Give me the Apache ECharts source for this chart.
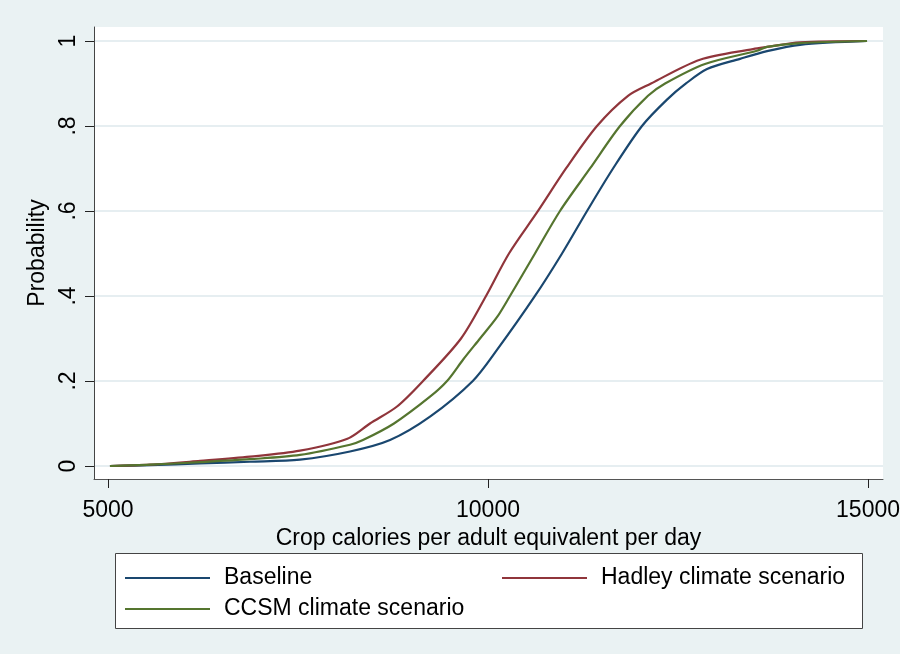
<!DOCTYPE html>
<html>
<head>
<meta charset="utf-8">
<script src="https://cdn.jsdelivr.net/npm/echarts@6/dist/echarts.min.js"></script>
<style>
  html, body { margin: 0; padding: 0; background: #EAF2F3; }
  #chart { width: 900px; height: 654px; }
</style>
</head>
<body>
<div id="chart"></div>
<script>
// Cumulative distribution of crop calories per adult equivalent per day
const seriesNames = ['Baseline', 'Hadley climate scenario', 'CCSM climate scenario'];
const seriesColors = ['#1a476f', '#90353b', '#55752f'];

// [calories, cumulative probability]
const baseline = [
  [5026, 0.000], [5553, 0.002], [6211, 0.006], [6868, 0.010], [7526, 0.015],
  [8184, 0.034], [8711, 0.061], [9237, 0.116], [9800, 0.200], [10118, 0.273],
  [10618, 0.400], [10974, 0.500], [11303, 0.600], [11645, 0.700], [12026, 0.800],
  [12355, 0.862], [12605, 0.900], [12882, 0.934], [13316, 0.958], [13671, 0.976],
  [14105, 0.991], [14987, 1.000]
];
const hadley = [
  [5026, 0.000], [5553, 0.003], [6211, 0.012], [6868, 0.022], [7526, 0.036],
  [8150, 0.064], [8447, 0.100], [8803, 0.140], [9145, 0.200], [9645, 0.300],
  [9974, 0.400], [10276, 0.500], [10658, 0.600], [11026, 0.700], [11434, 0.800],
  [11842, 0.871], [12145, 0.900], [12789, 0.956], [13487, 0.981], [13671, 0.986],
  [14105, 0.997], [14987, 1.000]
];
const ccsm = [
  [5026, 0.000], [5553, 0.003], [6211, 0.009], [6868, 0.016], [7526, 0.026],
  [8184, 0.050], [8355, 0.061], [8763, 0.100], [9237, 0.163], [9461, 0.200],
  [9671, 0.250], [9895, 0.300], [10118, 0.350], [10289, 0.400], [10618, 0.500],
  [10947, 0.600], [11342, 0.700], [11737, 0.800], [12105, 0.871], [12330, 0.900],
  [12855, 0.946], [13539, 0.977], [13671, 0.986], [14105, 0.995], [14987, 1.000]
];

const xTicks = [5000, 10000, 15000];
const yTicks = [0, 0.2, 0.4, 0.6, 0.8, 1];

const FONT = '"Liberation Sans", Arial, sans-serif';

const chart = echarts.init(document.getElementById('chart'), null, { renderer: 'canvas' });

const mkSeries = (name, data, color) => ({
  name: name,
  type: 'line',
  data: data,
  showSymbol: false,
  smooth: 0.3,
  lineStyle: { color: color, width: 2.2, join: 'round' },
  itemStyle: { color: color },
  emphasis: { disabled: true }
});

const legendText = { fontSize: 23, color: '#000', fontFamily: FONT, lineHeight: 26, padding: [0, 0, 0, 9] };

chart.setOption({
  animation: false,
  backgroundColor: '#EAF2F3',
  textStyle: { fontFamily: FONT },
  grid: {
    left: 94, right: 17, top: 27, bottom: 175,
    outerBoundsMode: 'none',
    containLabel: false,
    show: true, backgroundColor: '#ffffff', borderWidth: 0
  },
  xAxis: {
    type: 'value',
    min: 4816, max: 15197,
    name: 'Crop calories per adult equivalent per day',
    nameLocation: 'middle',
    nameGap: 38,
    nameTextStyle: { fontSize: 23, color: '#000', fontFamily: FONT },
    axisLine: { show: true, onZero: false, lineStyle: { color: '#555', width: 1 } },
    axisTick: { show: true, length: 9, customValues: xTicks, lineStyle: { color: '#222', width: 1 } },
    axisLabel: {
      customValues: xTicks, fontSize: 23, color: '#000', margin: 20, fontFamily: FONT,
      formatter: v => String(v)
    },
    splitLine: { show: false }
  },
  yAxis: {
    type: 'value',
    min: -0.0306, max: 1.0329,
    name: 'Probability',
    nameLocation: 'middle',
    nameGap: 39,
    nameTextStyle: { fontSize: 23, color: '#000', fontFamily: FONT },
    axisLine: { show: true, onZero: false, lineStyle: { color: '#444', width: 1 } },
    axisTick: { show: true, length: 9, customValues: yTicks, lineStyle: { color: '#222', width: 1 } },
    axisLabel: {
      customValues: yTicks, rotate: 90, fontSize: 23, color: '#000', margin: 14, fontFamily: FONT,
      formatter: v => (v === 0 || v === 1) ? String(v) : String(+v.toFixed(1)).replace(/^0\./, '.')
    },
    splitLine: { show: true, lineStyle: { color: '#E6EEF1', width: 2 } }
  },
  legend: [
    {
      data: ['Baseline', 'CCSM climate scenario'],
      orient: 'vertical',
      left: 125, top: 565,
      padding: 0,
      itemGap: 5,
      itemWidth: 85, itemHeight: 2,
      icon: 'rect',
      selectedMode: false,
      textStyle: legendText
    },
    {
      data: ['Hadley climate scenario'],
      orient: 'vertical',
      left: 502, top: 565,
      padding: 0,
      itemWidth: 85, itemHeight: 2,
      icon: 'rect',
      selectedMode: false,
      textStyle: legendText
    }
  ],
  graphic: [
    {
      type: 'rect',
      z: 0,
      shape: { x: 115.5, y: 553.5, width: 747, height: 75 },
      style: { fill: '#ffffff', stroke: '#444', lineWidth: 1 }
    }
  ],
  series: [
    mkSeries(seriesNames[0], baseline, seriesColors[0]),
    mkSeries(seriesNames[1], hadley, seriesColors[1]),
    mkSeries(seriesNames[2], ccsm, seriesColors[2])
  ]
});
</script>
</body>
</html>
